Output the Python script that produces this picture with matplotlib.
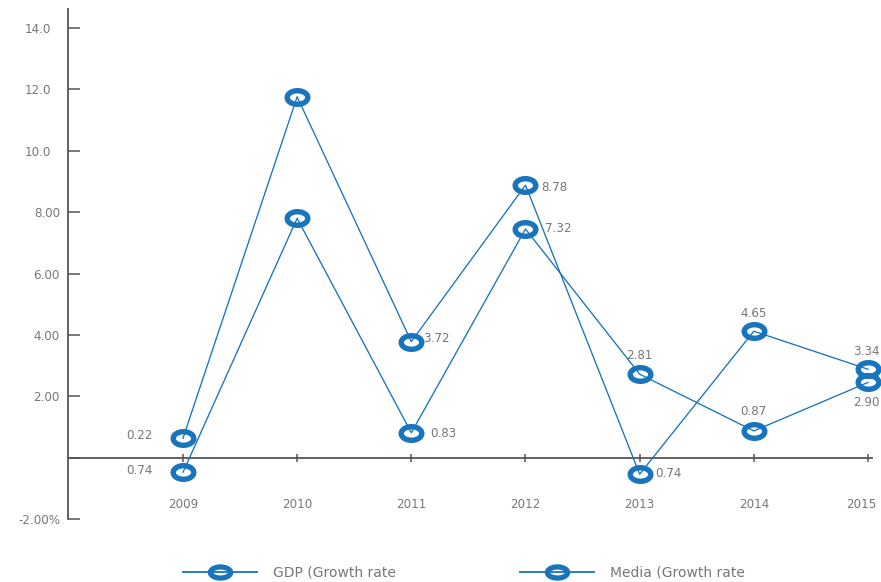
import matplotlib
matplotlib.use("Agg")
import matplotlib.pyplot as plt
from matplotlib.path import Path
from matplotlib.lines import Line2D
from matplotlib.transforms import ScaledTranslation
import numpy as np

# ---------------- data ----------------
years = [2009, 2010, 2011, 2012, 2013, 2014, 2015]
year_labels = ["2009", "2010", "2011", "2012", "2013", "2014", "2015"]
gdp_growth = [0.63, 11.76, 3.78, 8.88, -0.54, 4.12, 2.88]
media_growth = [-0.48, 7.80, 0.81, 7.45, 2.72, 0.87, 2.45]
gdp_labels = ["0.22", "", "3.72", "8.78", "0.74", "4.65", "3.34"]
media_labels = ["0.74", "", "0.83", "7.32", "2.81", "0.87", "2.90"]
y_ticks = [-2, 0, 2, 4, 6, 8, 10, 12, 14]
y_tick_labels = ["-2.00%", "", "2.00", "4.00", "6.00", "8.00", "10.0", "12.0", "14.0"]
series_names = ["GDP (Growth rate", "Media (Growth rate"]

# ---------------- style ----------------
BLUE = "#1874bc"
AXIS = "#555555"
TEXT = "#777777"
FONT = "DejaVu Sans"
plt.rcParams["font.family"] = [FONT]

# label offsets (pixels) and alignment for each point label
gdp_off = [(-30, 3, "right"), None, (12, 3, "left"), (16, -2, "left"),
           (16, 1, "left"), (0, 18, "center"), (-2, 18, "center")]
media_off = [(-30, 2, "right"), None, (19, -1, "left"), (20, 1, "left"),
             (0, 19, "center"), (0, 19, "center"), (-2, -20, "center")]


def ellipse_path(ratio):
    t = np.linspace(0, 2 * np.pi, 73)
    verts = np.column_stack([np.cos(t), ratio * np.sin(t)])
    codes = [Path.MOVETO] + [Path.LINETO] * 71 + [Path.CLOSEPOLY]
    return Path(verts, codes)


ring = ellipse_path(0.66)
ring_legend = ellipse_path(0.55)

W, H, DPI = 881, 582, 100
fig = plt.figure(figsize=(W / DPI, H / DPI), dpi=DPI)
left, right, bottom, top = 68, 872, 519, 9
ax = fig.add_axes([left / W, 1 - bottom / H, (right - left) / W, (bottom - top) / H])

ax.set_xlim(2009 - (183 - 68) / 114.2, 2015 + 4 / 114.2)
ax.set_ylim(-2, 14 + 19 / 30.67)

for vals in (gdp_growth, media_growth):
    ax.plot(years, vals, color=BLUE, lw=0.95, marker=ring, ms=14.8, mew=3.9,
            mfc="none", mec=BLUE, clip_on=False, zorder=3)

for vals, labs, offs in ((gdp_growth, gdp_labels, gdp_off),
                         (media_growth, media_labels, media_off)):
    for x, v, lab, off in zip(years, vals, labs, offs):
        if not lab:
            continue
        dx, dy, ha = off
        ax.annotate(lab, (x, v), xytext=(dx, dy), textcoords="offset pixels",
                    ha=ha, va="center", fontsize=8.6, color=TEXT, zorder=4)

# spines
for s in ("top", "right"):
    ax.spines[s].set_visible(False)
ax.spines["bottom"].set_position(("data", 0))
ax.spines["bottom"].set_color(AXIS)
ax.spines["bottom"].set_linewidth(1.3)
ax.spines["left"].set_color(AXIS)
ax.spines["left"].set_linewidth(1.3)

ax.set_xticks(years)
ax.set_xticklabels(year_labels)
ax.tick_params(axis="x", direction="inout", length=6, width=1.1, color=AXIS,
               pad=26, labelsize=8.6, labelcolor=TEXT)
for lab in ax.get_xticklabels():
    if lab.get_text() == "2015":
        lab.set_transform(lab.get_transform() + ScaledTranslation(-0.07, 0, fig.dpi_scale_trans))
ax.set_yticks(y_ticks)
ax.set_yticklabels(y_tick_labels)
ax.tick_params(axis="y", direction="in", length=8.5, width=1.1, color=AXIS,
               pad=5.8, labelsize=8.6, labelcolor=TEXT)
for lab in ax.get_yticklabels():
    if lab.get_text() in ("10.0", "12.0", "14.0"):
        lab.set_transform(lab.get_transform() + ScaledTranslation(-0.09, 0, fig.dpi_scale_trans))

# legend
handles = [Line2D([], [], color=BLUE, lw=1.3, marker=ring_legend, ms=14.5, mew=3.8,
                  mfc="none", mec=BLUE) for _ in series_names]
fig.legend(handles, series_names, loc="center left",
           bbox_to_anchor=(183 / W, 1 - 572.5 / H), bbox_transform=fig.transFigure,
           ncol=2, frameon=False, fontsize=10, labelcolor=TEXT,
           handlelength=5.3, handletextpad=1.15, columnspacing=9.0,
           borderpad=0, borderaxespad=0)

fig.savefig("out.png", dpi=DPI)
